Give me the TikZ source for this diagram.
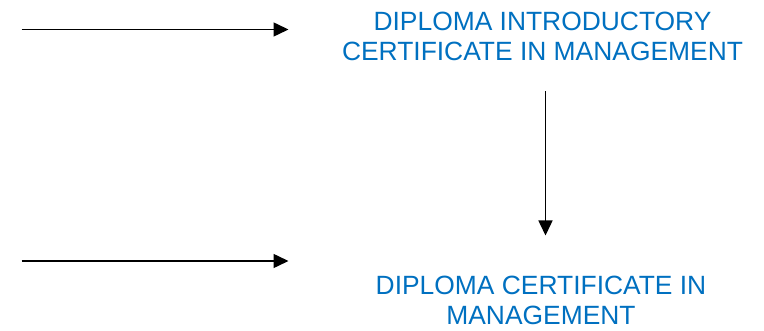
\documentclass[tikz,border=0pt]{standalone}
\usepackage{fontspec}
\setmainfont{Liberation Sans}
\usetikzlibrary{arrows.meta}
\definecolor{txtblue}{HTML}{0070C0}
\tikzset{
  lbl/.style={text=txtblue, align=center, inner sep=0pt, anchor=base,
    font=\fontsize{26.4pt}{30.7pt}\selectfont},
  arr/.style={draw=black, line width=1.5pt, -{Triangle[length=15pt,width=14pt]}}
}
\begin{document}
\begin{tikzpicture}[x=1pt,y=-1pt]
\useasboundingbox (0,0) rectangle (764,331);
\node[lbl] (top) at (542.5,61) {DIPLOMA INTRODUCTORY\\CERTIFICATE IN MANAGEMENT};
\node[lbl] (bot) at (541,325) {DIPLOMA CERTIFICATE IN\\MANAGEMENT};
\coordinate (a1s) at (21.5,29.5);
\coordinate (a1e) at (288.5,29.5);
\coordinate (a2s) at (21.5,261);
\coordinate (a2e) at (288.5,261);
\coordinate (vs) at (545.5,91.5);
\coordinate (ve) at (545.5,235.5);
\draw[arr] (a1s) -- (a1e);
\draw[arr] (a2s) -- (a2e);
\draw[arr] (vs) -- (ve);
\end{tikzpicture}
\end{document}
